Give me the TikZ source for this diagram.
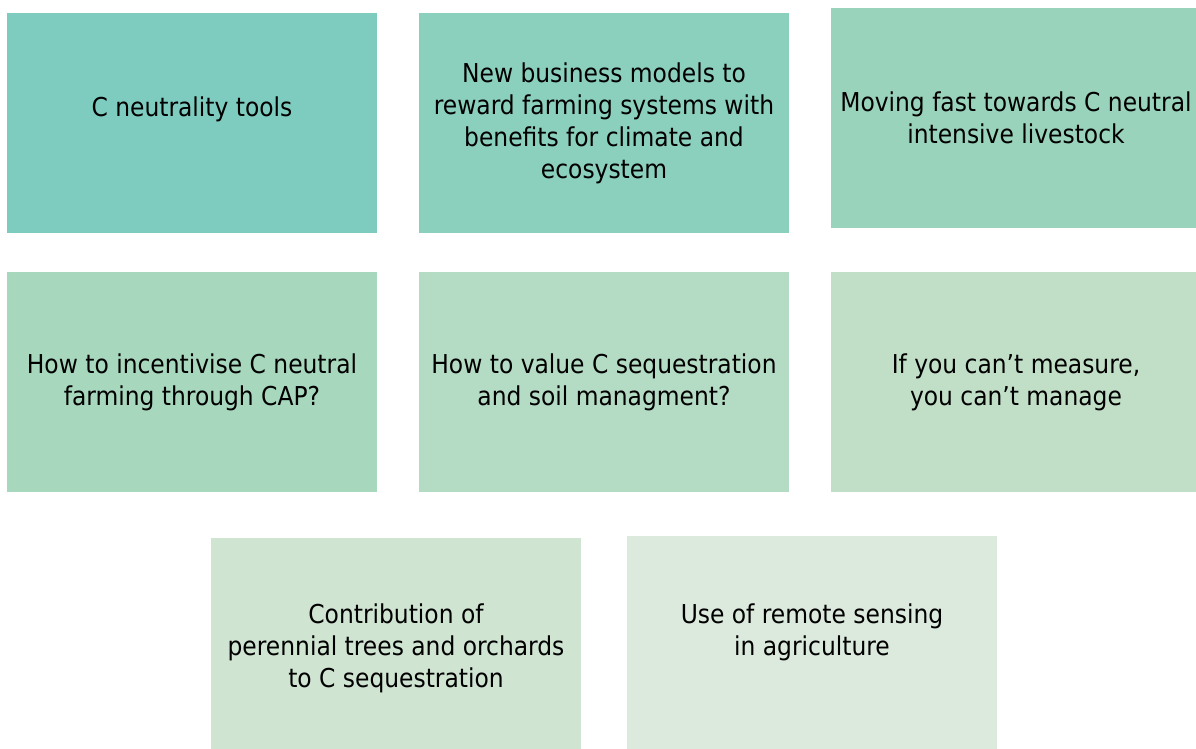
\documentclass[tikz,border=0pt]{standalone}
\usepackage{fontspec}
\setmainfont{DejaVu Sans Condensed}
\definecolor{tileA}{HTML}{7ECCC0}
\definecolor{tileB}{HTML}{8BCFBD}
\definecolor{tileC}{HTML}{9AD3BB}
\definecolor{tileD}{HTML}{A7D7BD}
\definecolor{tileE}{HTML}{B4DBC3}
\definecolor{tileF}{HTML}{C1DFC7}
\definecolor{tileG}{HTML}{CFE4D1}
\definecolor{tileH}{HTML}{DCEADD}
\tikzset{
  tile/.style={draw=none, minimum width=185pt, minimum height=110pt, inner sep=0pt,
               align=center, font=\fontsize{13}{16}\selectfont}
}
\begin{document}
\begin{tikzpicture}[x=0.5pt, y=-0.5pt]
  \useasboundingbox (0,0) rectangle (1196,749);
  \clip (0,0) rectangle (1196,749);

  % first row
  \node[tile, fill=tileA] (neutral)  at (192,123)  {C neutrality tools\\~};
  \node[tile, fill=tileB] (business) at (604,123)  {New business models to\\reward farming systems with\\benefits for climate and\\ecosystem};
  \node[tile, fill=tileC] (livestock) at (1016,118) {Moving fast towards C neutral\\intensive livestock};

  % second row
  \node[tile, fill=tileD] (cap)      at (192,382)  {How to incentivise C neutral\\farming through CAP?};
  \node[tile, fill=tileE] (sequest)  at (604,382)  {How to value C sequestration\\and soil managment?};
  \node[tile, fill=tileF] (measure)  at (1016,382) {If you can’t measure,\\you can’t manage};

  % third row
  \node[tile, fill=tileG] (orchards) at (396,648)  {Contribution of\\perennial trees and orchards\\to C sequestration};
  \node[tile, fill=tileH] (sensing)  at (812,646)  {Use of remote sensing\\in agriculture\\~};
\end{tikzpicture}
\end{document}
